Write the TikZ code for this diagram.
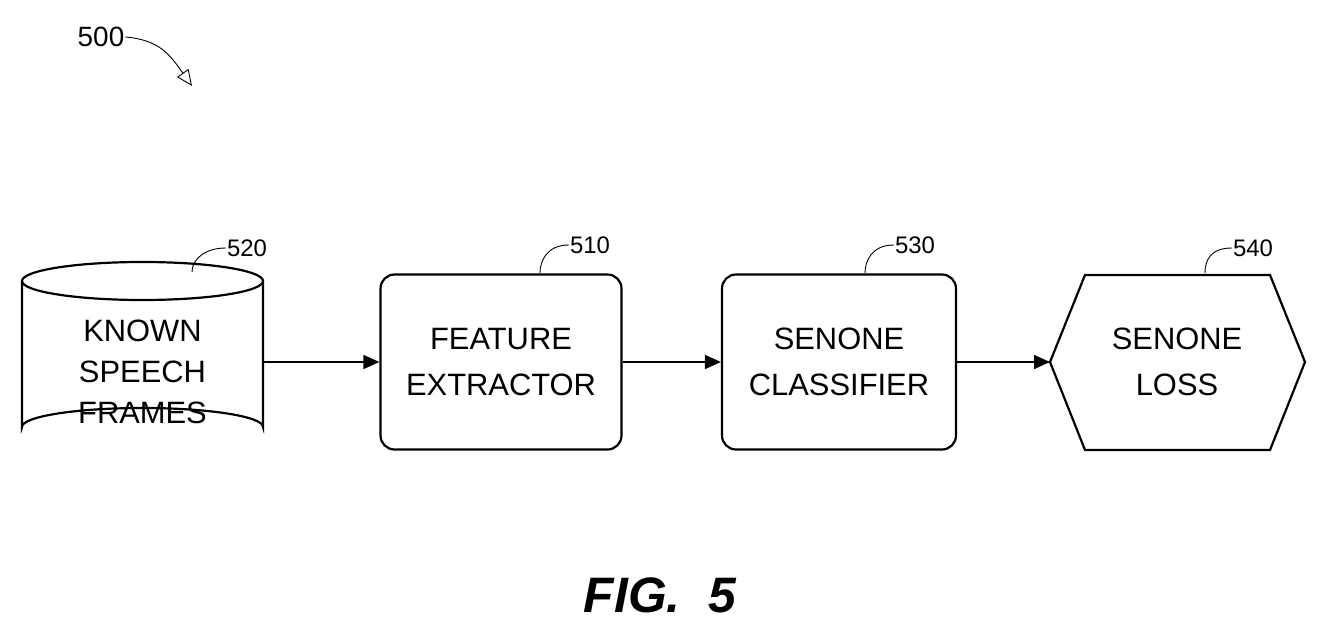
\documentclass[tikz,border=0pt]{standalone}
\usepackage{fontspec}
\setmainfont{Liberation Sans}
\usetikzlibrary{shapes.geometric,arrows.meta}
\tikzset{
   blk/.style={draw, line width=2.2pt, rounded corners=14bp, minimum width=241bp,
      minimum height=175bp, align=center, font=\fontsize{31}{46}\selectfont},
   num/.style={font=\fontsize{24}{28}\selectfont, inner sep=1bp},
   lead/.style={line width=0.9pt},
   flow/.style={line width=1.6pt, -{Triangle[length=16bp, width=14bp]}}
}
\begin{document}
\begin{tikzpicture}[x=1bp, y=-1bp]
   \useasboundingbox (0,0) rectangle (1327,638);
   % title and figure name
   \node[num, font=\fontsize{28}{32}\selectfont] (t500) at (101,37) {500};
   \coordinate (a500) at (192,86);
   \draw[lead, -{Triangle[open, length=16bp, width=14bp]}] (t500.east) .. controls (160,40) and (170,55) .. (a500);
   \node[font=\bfseries\itshape\fontsize{50}{56}\selectfont] (fig) at (660,595) {FIG.\ \ 5};
   % database
   \def \Rx {120.5}
   \def \Ry {19}
   \coordinate (ctop) at (142.5,281);
   \draw[line width=2.2pt] (22,281) -- (22,427) arc[start angle=180, end angle=360, x radius=\Rx, y radius=\Ry] -- (263,281);
   \draw[line width=2.2pt] (ctop) ellipse[x radius=\Rx, y radius=\Ry];
   \node[align=center, font=\fontsize{31}{41}\selectfont] (db) at (142.5,372) {KNOWN\\SPEECH\\FRAMES};
   \coordinate (dbE) at (263,362);
   % blocks
   \node[blk] (fe) at (501,362) {FEATURE\\EXTRACTOR};
   \node[blk, minimum width=234bp] (sc) at (839,362) {SENONE\\CLASSIFIER};
   \draw[line width=2.2pt] (1050,362) -- (1085,275) -- (1270,275) -- (1305,362) -- (1270,450) -- (1085,450) -- cycle;
   \coordinate (slW) at (1050,362);
   \node[align=center, font=\fontsize{31}{46}\selectfont] (sl) at (1177,362) {SENONE\\LOSS};
   % flow
   \draw[flow] (dbE) -- (fe.west);
   \draw[flow] (fe.east) -- (sc.west);
   \draw[flow] (sc.east) -- (slW);
   % reference numbers
   \node[num] (n520) at (247,248) {520};
   \node[num] (n510) at (590,245) {510};
   \node[num] (n530) at (915,245) {530};
   \node[num] (n540) at (1253,248) {540};
   \coordinate (l520) at (192,272);
   \coordinate (l510) at (540,273);
   \coordinate (l530) at (865,273);
   \coordinate (l540) at (1205,273);
   \foreach \n / \l in {n520/l520, n510/l510, n530/l530, n540/l540} {
      \draw[lead] (\n.west) .. controls +(-22,0) and +(0,-12) .. (\l);
   }
\end{tikzpicture}
\end{document}
